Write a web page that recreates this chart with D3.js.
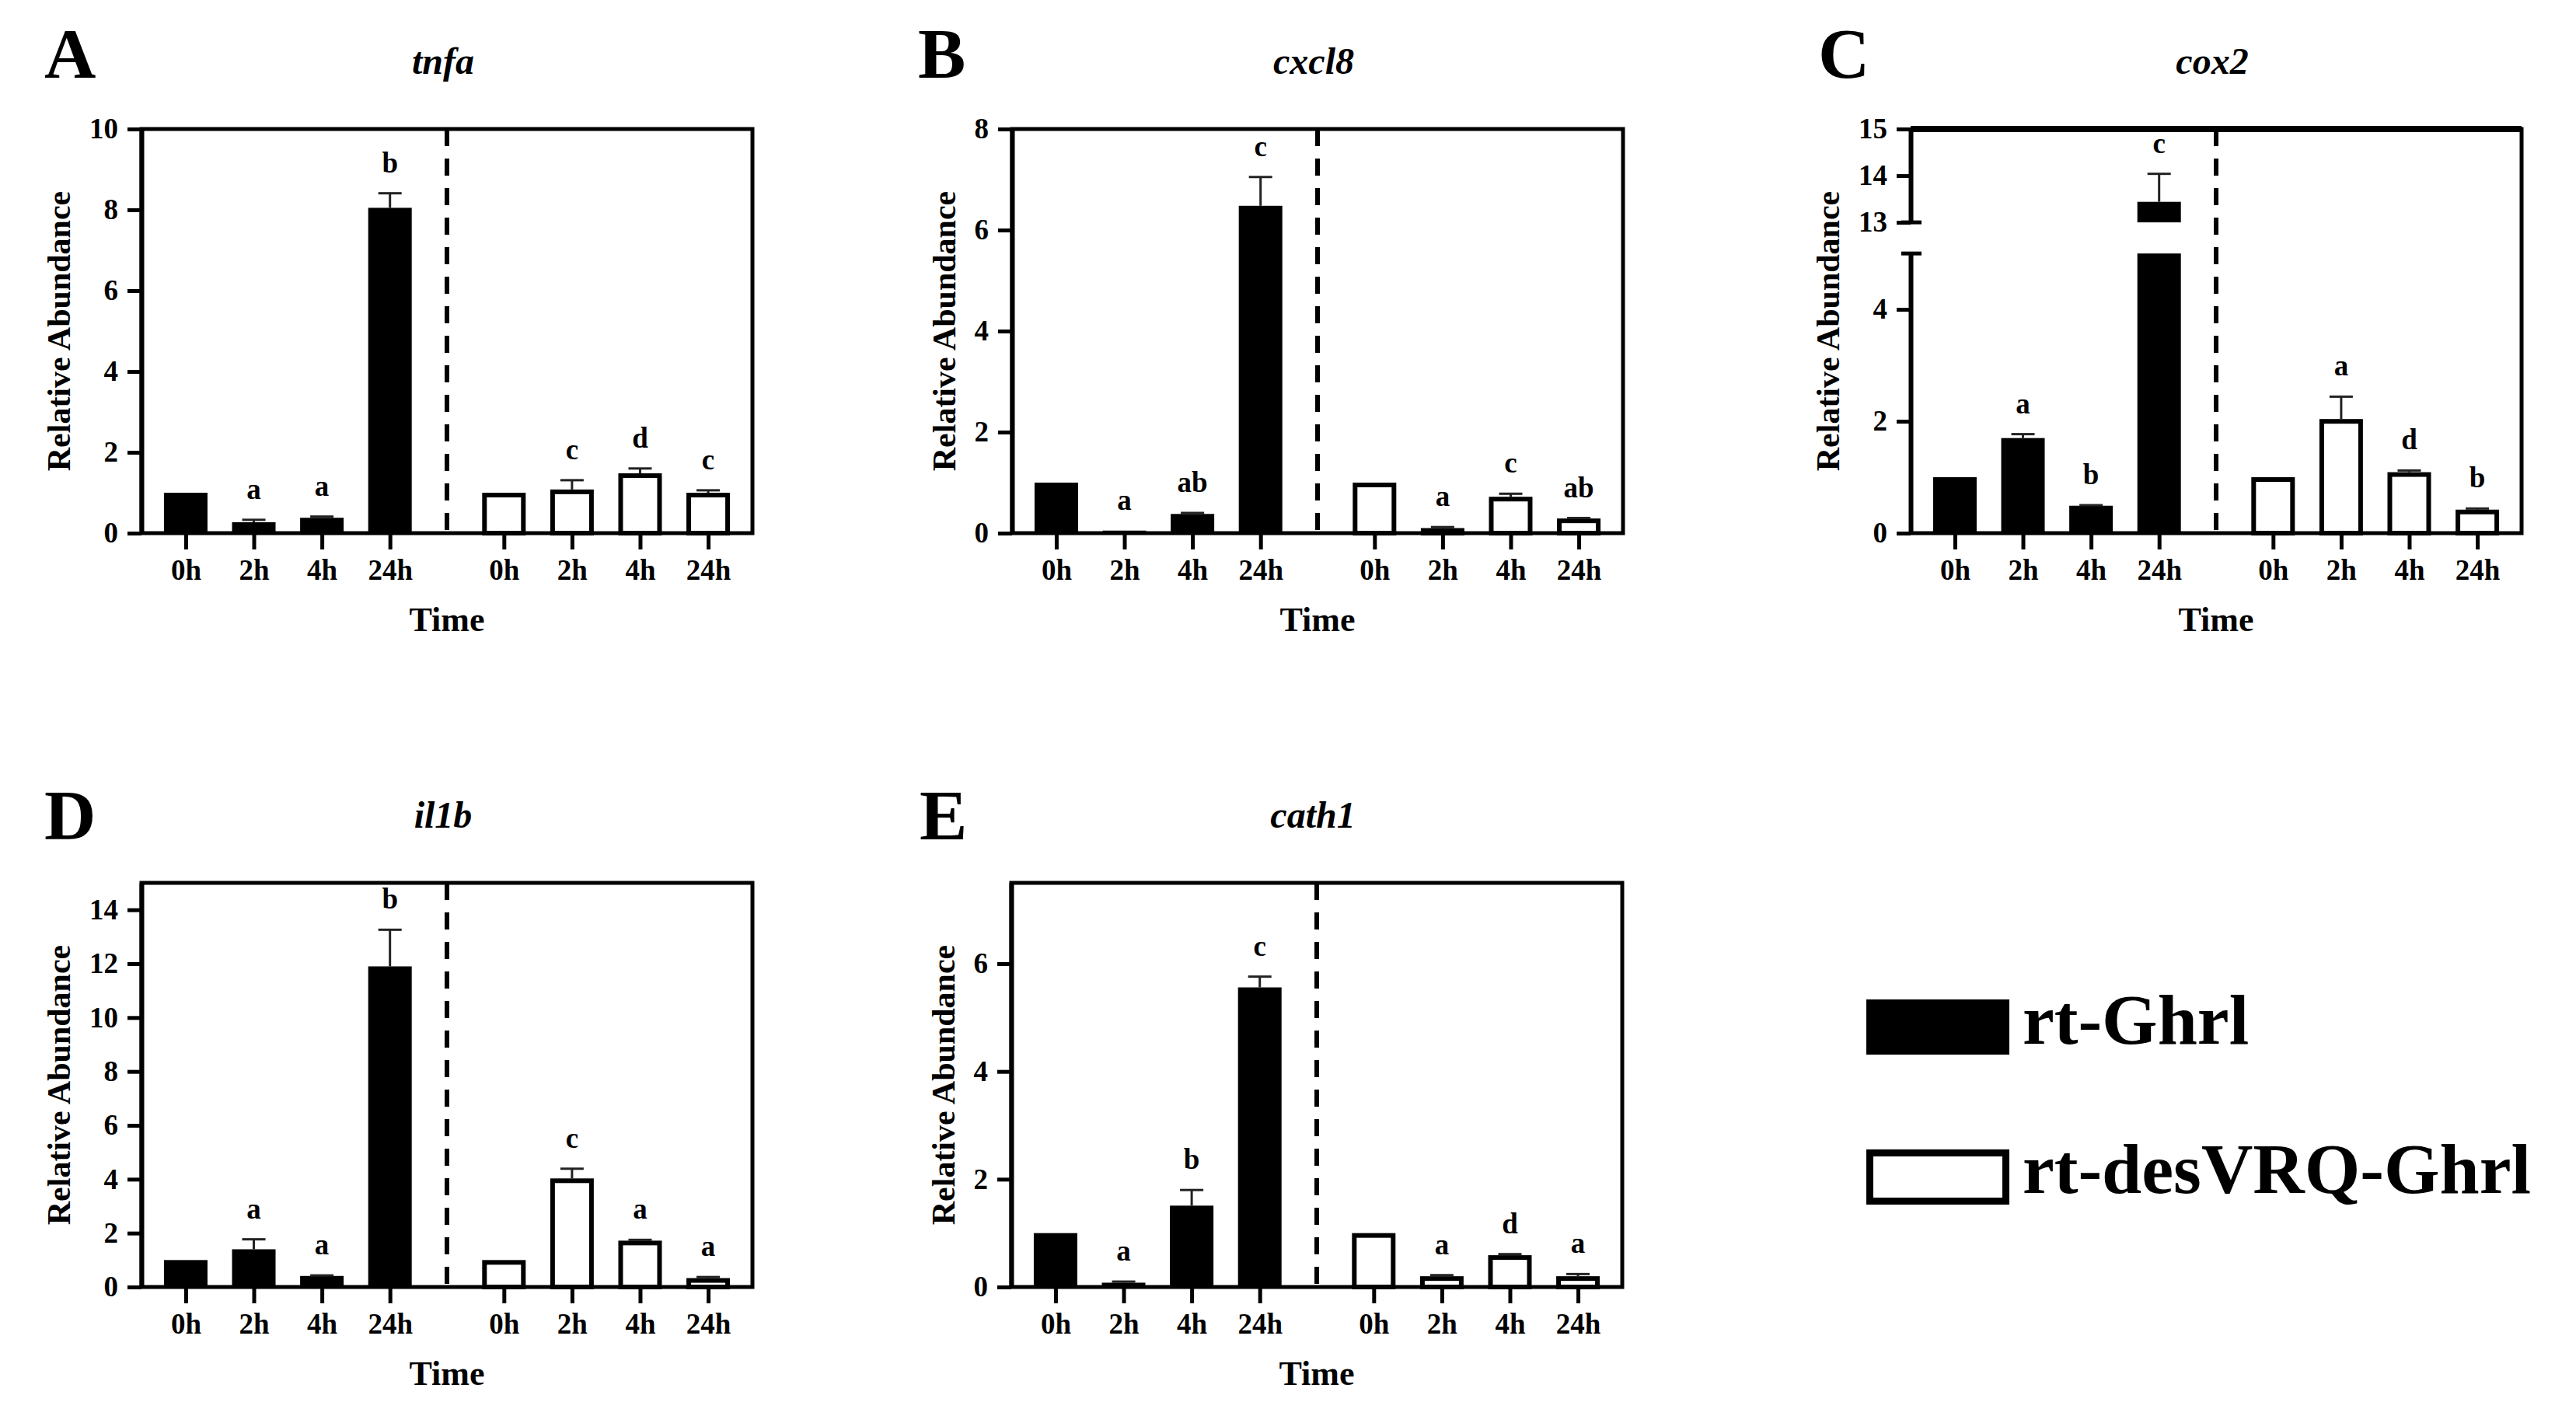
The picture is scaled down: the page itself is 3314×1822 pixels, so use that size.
<!DOCTYPE html>
<html>
<head>
<meta charset="utf-8">
<script src="https://d3js.org/d3.v7.min.js"></script>
<style>
body { margin: 0; background: #fff; }
text { font-family: "Liberation Serif", "Times New Roman", serif; font-weight: bold; fill: #000; }
</style>
</head>
<body>
<script>
// categories
var times = ["0h", "2h", "4h", "24h"];
var groups = ["rt-Ghrl", "rt-desVRQ-Ghrl"];

// tnfa
var tnfaGhrl = [1.0, 0.27, 0.38, 8.05], tnfaGhrlErr = [0, 0.06, 0.03, 0.36];
var tnfaDes = [1.0, 1.08, 1.48, 1.0], tnfaDesErr = [0, 0.23, 0.12, 0.06];
var tnfaGhrlSig = ["", "a", "a", "b"], tnfaDesSig = ["", "c", "d", "c"];
var tnfaTicks = [0, 2, 4, 6, 8, 10];

// cxcl8
var cxcl8Ghrl = [1.0, 0.05, 0.38, 6.48], cxcl8GhrlErr = [0, 0, 0.02, 0.57];
var cxcl8Des = [1.0, 0.1, 0.72, 0.29], cxcl8DesErr = [0, 0.02, 0.06, 0.01];
var cxcl8GhrlSig = ["", "a", "ab", "c"], cxcl8DesSig = ["", "a", "c", "ab"];
var cxcl8Ticks = [0, 2, 4, 6, 8];

// cox2 (broken axis)
var cox2Ghrl = [1.0, 1.70, 0.49, 13.44], cox2GhrlErr = [0, 0.07, 0.01, 0.6];
var cox2Des = [1.0, 2.04, 1.09, 0.42], cox2DesErr = [0, 0.4, 0.03, 0.02];
var cox2GhrlSig = ["", "a", "b", "c"], cox2DesSig = ["", "a", "d", "b"];
var cox2LowTicks = [0, 2, 4], cox2HighTicks = [13, 14, 15];

// il1b
var il1bGhrl = [1.0, 1.40, 0.41, 11.9], il1bGhrlErr = [0, 0.37, 0.02, 1.36];
var il1bDes = [1.0, 4.03, 1.72, 0.33], il1bDesErr = [0, 0.36, 0.03, 0.04];
var il1bGhrlSig = ["", "a", "a", "b"], il1bDesSig = ["", "c", "a", "a"];
var il1bTicks = [0, 2, 4, 6, 8, 10, 12, 14];

// cath1
var cath1Ghrl = [1.0, 0.08, 1.51, 5.56], cath1GhrlErr = [0, 0.02, 0.29, 0.2];
var cath1Des = [1.0, 0.2, 0.59, 0.2], cath1DesErr = [0, 0.02, 0.02, 0.04];
var cath1GhrlSig = ["", "a", "b", "c"], cath1DesSig = ["", "a", "d", "a"];
var cath1Ticks = [0, 2, 4, 6];

var W = 786, H = 520, barW = 56;

var panels = [
    {tag: "A", gene: "tnfa", x: 182, y: 166, lx: 57, ly: 100,
     vals: [tnfaGhrl, tnfaDes], errs: [tnfaGhrlErr, tnfaDesErr], sig: [tnfaGhrlSig, tnfaDesSig],
     segs: [{domain: [0, 10], f: [0, 1], ticks: tnfaTicks}]},
    {tag: "B", gene: "cxcl8", x: 1302, y: 166, lx: 1181, ly: 100,
     vals: [cxcl8Ghrl, cxcl8Des], errs: [cxcl8GhrlErr, cxcl8DesErr], sig: [cxcl8GhrlSig, cxcl8DesSig],
     segs: [{domain: [0, 8], f: [0, 1], ticks: cxcl8Ticks}]},
    {tag: "C", gene: "cox2", x: 2458, y: 166, lx: 2339, ly: 100, broken: true,
     vals: [cox2Ghrl, cox2Des], errs: [cox2GhrlErr, cox2DesErr], sig: [cox2GhrlSig, cox2DesSig],
     segs: [{domain: [0, 5], f: [0, 0.692], ticks: cox2LowTicks},
            {domain: [13, 15], f: [0.769, 1], ticks: cox2HighTicks}]},
    {tag: "D", gene: "il1b", x: 182, y: 1136, lx: 57, ly: 1080,
     vals: [il1bGhrl, il1bDes], errs: [il1bGhrlErr, il1bDesErr], sig: [il1bGhrlSig, il1bDesSig],
     segs: [{domain: [0, 15], f: [0, 1], ticks: il1bTicks}]},
    {tag: "E", gene: "cath1", x: 1301, y: 1136, lx: 1183, ly: 1080,
     vals: [cath1Ghrl, cath1Des], errs: [cath1GhrlErr, cath1DesErr], sig: [cath1GhrlSig, cath1DesSig],
     segs: [{domain: [0, 7.5], f: [0, 1], ticks: cath1Ticks}]}
];

var svg = d3.select("body").append("svg")
    .attr("width", 3314)
    .attr("height", 1822);

panels.forEach(function(p) {
    svg.append("text")
        .attr("x", p.lx).attr("y", p.ly)
        .attr("font-size", 92)
        .text(p.tag);

    var g = svg.append("g")
        .attr("transform", "translate(" + p.x + "," + p.y + ")");

    var outer = d3.scaleBand().domain(groups).range([0, W]).paddingInner(0.08);
    var inner = d3.scalePoint().domain(times).range([0, outer.bandwidth()]).padding(0.65);
    var cx = function(gi, ti) { return outer(groups[gi]) + inner(times[ti]); };

    var segs = p.segs.map(function(s) {
        return {domain: s.domain, ticks: s.ticks,
                y: d3.scaleLinear().domain(s.domain).range([H * (1 - s.f[0]), H * (1 - s.f[1])])};
    });
    var segOf = function(v) {
        for (var i = segs.length - 1; i >= 0; i--) if (v >= segs[i].domain[0]) return segs[i];
        return segs[0];
    };

    // title
    g.append("text")
        .attr("x", W / 2 - 5).attr("y", -71)
        .attr("text-anchor", "middle")
        .attr("font-size", 48)
        .attr("font-style", "italic")
        .text(p.gene);

    // frame
    if (!p.broken) {
        g.append("rect")
            .attr("width", W).attr("height", H)
            .attr("fill", "none").attr("stroke", "#000").attr("stroke-width", 5);
    } else {
        g.append("path").attr("d", "M0,0H" + W + "V" + H + "H0")
            .attr("fill", "none").attr("stroke", "#000").attr("stroke-width", 5);
        g.append("line").attr("x1", 0).attr("x2", W).attr("y1", 0).attr("y2", 0)
            .attr("stroke", "#000").attr("stroke-width", 8);
    }

    // dashed separator
    g.append("line")
        .attr("x1", W / 2).attr("x2", W / 2)
        .attr("y1", 0).attr("y2", H)
        .attr("stroke", "#000").attr("stroke-width", 6)
        .attr("stroke-dasharray", "22,16");

    // bars
    groups.forEach(function(grp, gi) {
        times.forEach(function(t, ti) {
            var v = p.vals[gi][ti];
            segs.forEach(function(s) {
                if (v <= s.domain[0]) return;
                var top = s.y(Math.min(v, s.domain[1])), bot = s.y(s.domain[0]);
                if (gi === 0) {
                    g.append("rect")
                        .attr("x", cx(gi, ti) - barW / 2).attr("width", barW)
                        .attr("y", top).attr("height", bot - top)
                        .attr("fill", "#000");
                } else {
                    g.append("rect")
                        .attr("x", cx(gi, ti) - barW / 2 + 3).attr("width", barW - 6)
                        .attr("y", top + 3).attr("height", Math.max(0, bot - top - 3))
                        .attr("fill", "#fff").attr("stroke", "#000").attr("stroke-width", 6);
                }
            });
            var e = p.errs[gi][ti];
            var sTop = segOf(v + e);
            var yTop = sTop.y(v + e), yBar = segOf(v).y(v);
            if (e > 0) {
                g.append("line")
                    .attr("x1", cx(gi, ti)).attr("x2", cx(gi, ti))
                    .attr("y1", yBar).attr("y2", yTop)
                    .attr("stroke", "#222").attr("stroke-width", 3);
                g.append("line")
                    .attr("x1", cx(gi, ti) - 15).attr("x2", cx(gi, ti) + 15)
                    .attr("y1", yTop).attr("y2", yTop)
                    .attr("stroke", "#222").attr("stroke-width", 3);
            }
            if (p.sig[gi][ti]) {
                g.append("text")
                    .attr("x", cx(gi, ti)).attr("y", yTop - 27)
                    .attr("text-anchor", "middle")
                    .attr("font-size", 37)
                    .text(p.sig[gi][ti]);
            }
        });
    });

    // y axis
    var yAxes = g.append("g");
    segs.forEach(function(s) {
        var ax = yAxes.append("g")
            .call(d3.axisLeft(s.y).tickValues(s.ticks).tickSize(18).tickSizeOuter(0).tickPadding(12)
                .tickFormat(d3.format("d")));
        ax.select(".domain").attr("stroke-width", 6);
        ax.selectAll(".tick line").attr("stroke-width", 5);
        ax.selectAll(".tick text").attr("font-size", 37)
            .attr("font-family", "Liberation Serif").attr("font-weight", "bold");
    });
    if (p.broken) {
        // caps at the axis break
        [segs[1].y(segs[1].domain[0]), segs[0].y(segs[0].domain[1])].forEach(function(yy) {
            g.append("line").attr("x1", -12).attr("x2", 14).attr("y1", yy).attr("y2", yy)
                .attr("stroke", "#000").attr("stroke-width", 5);
        });
    }

    // x axis, one per group
    groups.forEach(function(grp) {
        var ax = g.append("g")
            .attr("transform", "translate(" + outer(grp) + "," + H + ")")
            .call(d3.axisBottom(inner).tickSize(21).tickPadding(13));
        ax.select(".domain").remove();
        ax.selectAll(".tick line").attr("stroke-width", 5);
        ax.selectAll(".tick text").attr("font-size", 37)
            .attr("font-family", "Liberation Serif").attr("font-weight", "bold");
    });

    // axis titles
    var bb = yAxes.node().getBBox();
    g.append("text")
        .attr("transform", "translate(" + (bb.x - 25) + "," + (H / 2) + ") rotate(-90)")
        .attr("text-anchor", "middle")
        .attr("font-size", 42)
        .text("Relative Abundance");

    g.append("text")
        .attr("x", W / 2).attr("y", H + 126)
        .attr("text-anchor", "middle")
        .attr("font-size", 44)
        .text("Time");
});

// legend
var legend = svg.append("g").attr("transform", "translate(2401,1286)");
legend.append("rect").attr("width", 184).attr("height", 71).attr("fill", "#000");
legend.append("text").attr("x", 201).attr("y", 57).attr("font-size", 92).text(groups[0]);
legend.append("rect").attr("x", 4.5).attr("y", 197.5).attr("width", 175).attr("height", 62)
    .attr("fill", "#fff").attr("stroke", "#000").attr("stroke-width", 9);
legend.append("text").attr("x", 201).attr("y", 249).attr("font-size", 92).text(groups[1]);
</script>
</body>
</html>
